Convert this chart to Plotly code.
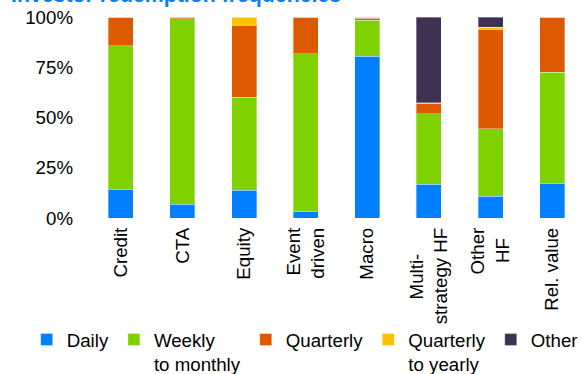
import plotly.graph_objects as go

PAD = "<span style='color:white'>{}</span>"

categories = ["Credit", "CTA", "Equity", "Event driven", "Macro",
              "Multi-strategy HF", "Other HF", "Rel. value"]
tick_labels = ["Credit", "CTA", "Equity", "Event<br>driven", "Macro",
               "Multi-" + PAD.format("__.") + "<br>strategy HF",
               "Other<br>HF" + PAD.format("_"),
               "Rel. value"]

daily = [14.2, 6.8, 13.7, 3.1, 80.4, 16.7, 10.7, 17.2]
weekly_monthly = [71.5, 92.4, 46.5, 78.6, 18.1, 35.2, 33.7, 55.4]
quarterly = [14.3, 0.8, 35.6, 18.3, 0.8, 5.0, 49.4, 27.4]
quarterly_yearly = [0, 0, 4.2, 0, 0.7, 0.5, 1.2, 0]
other = [0, 0, 0, 0, 0, 42.6, 5.0, 0]

y_ticks = [0, 25, 50, 75, 100]
y_tick_text = ["0%", "25%", "50%", "75%", "100%"]

series = [
    ("Daily", daily, "#0080FF"),
    ("Weekly<br>to monthly", weekly_monthly, "#7FD100"),
    ("Quarterly", quarterly, "#DC5900"),
    ("Quarterly<br>to yearly", quarterly_yearly, "#FFC000"),
    ("Other", other, "#3F3152"),
]

FONT = "Liberation Sans, Arial, sans-serif"
FS = 18.7

fig = go.Figure()
for name, vals, col in series:
    fig.add_trace(go.Bar(
        x=categories, y=vals, name=name,
        marker=dict(color=col, line=dict(color="rgba(255,255,255,0.35)", width=1)),
    ))

fig.update_layout(
    width=583, height=374,
    margin=dict(l=90, r=0, t=17, b=156, autoexpand=False),
    barmode="stack",
    bargap=0.595,
    plot_bgcolor="white", paper_bgcolor="white",
    font=dict(family=FONT, size=FS, color="#000000"),
    title=dict(
        text="<b>Investor redemption frequencies</b>",
        x=11 / 583, xanchor="left", xref="container",
        y=0.9935, yanchor="bottom", yref="container",
        font=dict(family=FONT, size=21.3, color="#0A7DFF"),
    ),
    xaxis=dict(
        type="category", tickmode="array", tickvals=categories, ticktext=tick_labels,
        tickangle=-90, showgrid=False, zeroline=False, showline=False,
        ticks="", ticklabelstandoff=5,
        tickfont=dict(family=FONT, size=FS, color="#000000"),
    ),
    yaxis=dict(
        range=[0, 100], tickmode="array", tickvals=y_ticks, ticktext=y_tick_text,
        showgrid=False, zeroline=False, showline=False, ticks="",
        ticklabelstandoff=16,
        tickfont=dict(family=FONT, size=FS, color="#000000"),
    ),
    legend=dict(
        orientation="h", x=(26.7 - 90) / 493, xanchor="left",
        y=-0.512, yanchor="top", valign="top",
        font=dict(family=FONT, size=FS, color="#000000"),
        traceorder="normal", bgcolor="rgba(0,0,0,0)",
    ),
    showlegend=True,
)

fig.write_html("out.html", config={"displayModeBar": False},
               post_script="document.body.style.margin='0px';")
